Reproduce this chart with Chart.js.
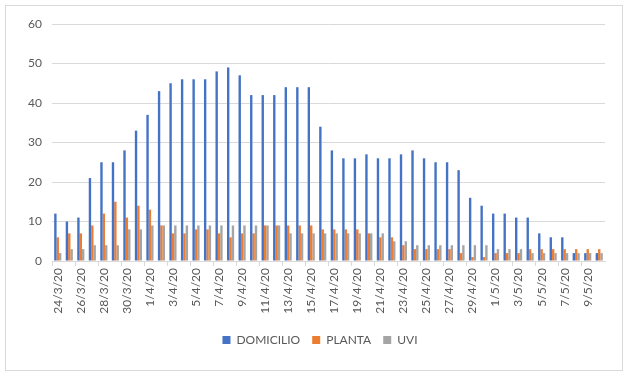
<!DOCTYPE html>
<html>
<head>
<meta charset="utf-8">
<script src="https://cdn.jsdelivr.net/npm/chart.js@4/dist/chart.umd.min.js"></script>
<style>
  html, body { margin: 0; padding: 0; background: #fff; }
  #wrap { width: 640px; height: 377px; position: relative; }
</style>
</head>
<body>
<div id="wrap"><canvas id="chartCanvas" width="640" height="377"></canvas></div>
<script>
// datoer (kategorier)
var dates = [
  '24/3/20','25/3/20','26/3/20','27/3/20','28/3/20','29/3/20','30/3/20','31/3/20',
  '1/4/20','2/4/20','3/4/20','4/4/20','5/4/20','6/4/20','7/4/20','8/4/20','9/4/20','10/4/20',
  '11/4/20','12/4/20','13/4/20','14/4/20','15/4/20','16/4/20','17/4/20','18/4/20','19/4/20','20/4/20',
  '21/4/20','22/4/20','23/4/20','24/4/20','25/4/20','26/4/20','27/4/20','28/4/20','29/4/20','30/4/20',
  '1/5/20','2/5/20','3/5/20','4/5/20','5/5/20','6/5/20','7/5/20','8/5/20','9/5/20','10/5/20'
]

var domicilio = [12,10,11,21,25,25,28,33,37,43,45,46,46,46,48,49,47,42,42,42,44,44,44,34,28,26,26,27,26,26,27,28,26,25,25,23,16,14,12,12,11,11,7,6,6,2,2,2]
var planta    = [6,7,7,9,12,15,11,14,13,9,7,7,8,8,7,6,7,7,9,9,9,9,9,8,8,8,8,7,6,6,4,3,3,3,3,2,1,1,2,2,2,3,3,3,3,3,3,3]
var uvi       = [2,3,3,4,4,4,8,8,9,9,9,9,9,9,9,9,9,9,9,9,7,7,7,7,7,7,7,7,7,5,5,4,4,4,4,4,4,4,3,3,3,2,2,2,2,2,2,2]

var yTicks = [0,10,20,30,40,50,60]

var textColor = '#595959'
var gridColor = '#d9d9d9'
var fontFamily = 'Lato, "Liberation Sans", sans-serif'

// tegner den tynde ramme rundt om hele diagrammet
var borderPlugin = {
  id: 'outerBorder',
  afterDraw(chart) {
    var ctx = chart.ctx
    ctx.save()
    ctx.strokeStyle = gridColor
    ctx.lineWidth = 1
    ctx.strokeRect(5.5, 5.5, 617, 365)
    ctx.restore()
  }
}

var myChart = new Chart(document.getElementById('chartCanvas'), {
  type: 'bar',
  data: {
    labels: dates,
    datasets: [
      { label: 'DOMICILIO', data: domicilio, backgroundColor: '#4472C4' },
      { label: 'PLANTA', data: planta, backgroundColor: '#ED7D31' },
      { label: 'UVI', data: uvi, backgroundColor: '#A5A5A5' }
    ]
  },
  options: {
    responsive: false,
    animation: false,
    categoryPercentage: 0.62,
    barPercentage: 1.0,
    layout: { padding: { left: 8, right: 8, top: 24, bottom: 21 } },
    plugins: {
      tooltip: { enabled: false },
      legend: {
        position: 'bottom',
        labels: {
          color: textColor,
          font: { family: fontFamily, size: 12 },
          boxWidth: 8,
          boxHeight: 8,
          padding: 12
        }
      }
    },
    scales: {
      x: {
        offset: true,
        grid: {
          offset: true,
          drawOnChartArea: false,
          tickLength: 5,
          color: ctx => (ctx.index % 2 === 0 ? gridColor : 'rgba(0,0,0,0)')
        },
        border: { color: gridColor },
        ticks: {
          autoSkip: false,
          maxRotation: 90,
          minRotation: 90,
          color: textColor,
          font: { family: fontFamily, size: 12 },
          padding: 2,
          callback: function (val, i) { return i % 2 === 0 ? dates[i] : '' }
        },
        afterFit: s => { s.height = 61 }
      },
      y: {
        min: 0,
        max: 60,
        afterBuildTicks: s => { s.ticks = yTicks.map(v => ({ value: v })) },
        grid: { color: gridColor, drawTicks: false },
        border: { display: false },
        ticks: {
          color: textColor,
          font: { family: fontFamily, size: 12 },
          padding: 10
        },
        afterFit: s => { s.width = 44 }
      },
      // tom akse til højre, så legenden bliver centreret på hele billedet
      yRight: {
        position: 'right',
        display: true,
        grid: { display: false },
        border: { display: false },
        ticks: { display: false },
        afterFit: s => { s.width = 27 }
      }
    }
  },
  plugins: [borderPlugin]
})
</script>
</body>
</html>
